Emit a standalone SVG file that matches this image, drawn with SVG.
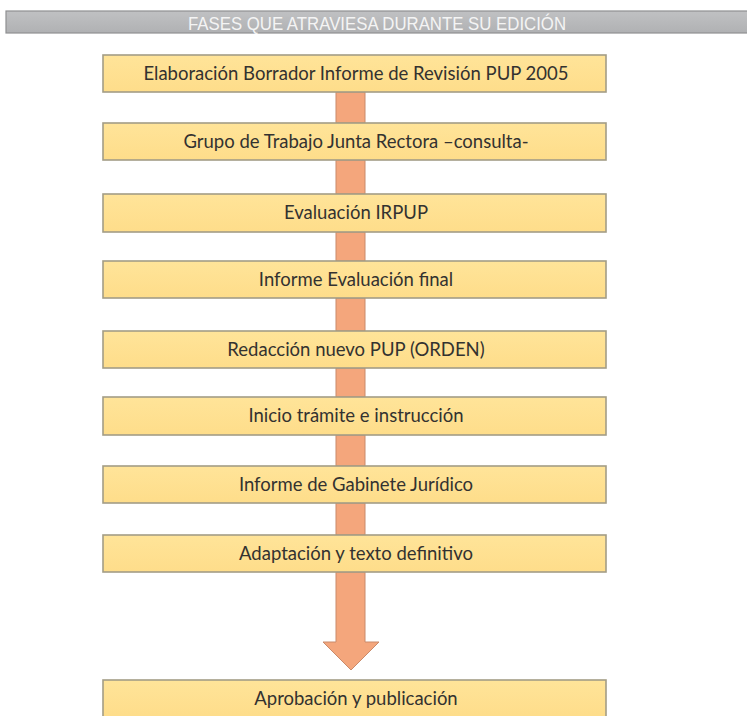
<svg xmlns="http://www.w3.org/2000/svg" width="747" height="716" viewBox="0 0 747 716">
<defs>
<linearGradient id="hdr" x1="0" y1="0" x2="0" y2="1">
<stop offset="0" stop-color="#c0c1c3"/><stop offset="1" stop-color="#b0b1b3"/>
</linearGradient>
<linearGradient id="box" x1="0" y1="0" x2="0" y2="1">
<stop offset="0" stop-color="#ffe499"/><stop offset="1" stop-color="#fedd8a"/>
</linearGradient>
<style>
.box{fill:url(#box);stroke:#a39d86;stroke-width:1.6}
.lbl{font-family:Lato,"Liberation Sans",sans-serif;font-size:18.5px;fill:#333230;text-anchor:middle}
.bar{fill:#f4a67c;stroke:#c98a6a;stroke-width:1}
</style>
</defs>
<rect width="747" height="716" fill="#ffffff"/>
<g id="header">
<rect x="6" y="11" width="745" height="22" fill="url(#hdr)" stroke="#8f9092" stroke-width="1.2"/>
<text x="377" y="29.5" font-family="'Liberation Sans',sans-serif" font-size="18" fill="#f4f4f4" textLength="378" lengthAdjust="spacingAndGlyphs" text-anchor="middle">FASES QUE ATRAVIESA DURANTE SU EDICIÓN</text>
</g>
<g id="connectors">
<rect class="bar" x="336" y="92" width="29" height="31"/>
<rect class="bar" x="336" y="160" width="29" height="34"/>
<rect class="bar" x="336" y="232" width="29" height="29"/>
<rect class="bar" x="336" y="298" width="29" height="33"/>
<rect class="bar" x="336" y="368" width="29" height="29"/>
<rect class="bar" x="336" y="435" width="29" height="31"/>
<rect class="bar" x="336" y="503" width="29" height="32"/>
<path class="bar" d="M336 572 V642 H323 L351 670 L379 642 H365 V572 Z"/>
</g>
<g id="n1"><rect class="box" x="103" y="55" width="503" height="37"/><text class="lbl" x="356" y="80">Elaboración Borrador Informe de Revisión PUP 2005</text></g>
<g id="n2"><rect class="box" x="103" y="123" width="503" height="37"/><text class="lbl" x="356" y="148">Grupo de Trabajo Junta Rectora –consulta-</text></g>
<g id="n3"><rect class="box" x="103" y="194" width="503" height="38"/><text class="lbl" x="356" y="219">Evaluación IRPUP</text></g>
<g id="n4"><rect class="box" x="103" y="261" width="503" height="37"/><text class="lbl" x="356" y="286">Informe Evaluación final</text></g>
<g id="n5"><rect class="box" x="103" y="331" width="503" height="37"/><text class="lbl" x="356" y="356">Redacción nuevo PUP (ORDEN)</text></g>
<g id="n6"><rect class="box" x="103" y="397" width="503" height="38"/><text class="lbl" x="356" y="422">Inicio trámite e instrucción</text></g>
<g id="n7"><rect class="box" x="103" y="466" width="503" height="37"/><text class="lbl" x="356" y="491">Informe de Gabinete Jurídico</text></g>
<g id="n8"><rect class="box" x="103" y="535" width="503" height="37"/><text class="lbl" x="356" y="560">Adaptación y texto definitivo</text></g>
<g id="n9"><rect class="box" x="103" y="680" width="503" height="37"/><text class="lbl" x="356" y="705">Aprobación y publicación</text></g>
</svg>
